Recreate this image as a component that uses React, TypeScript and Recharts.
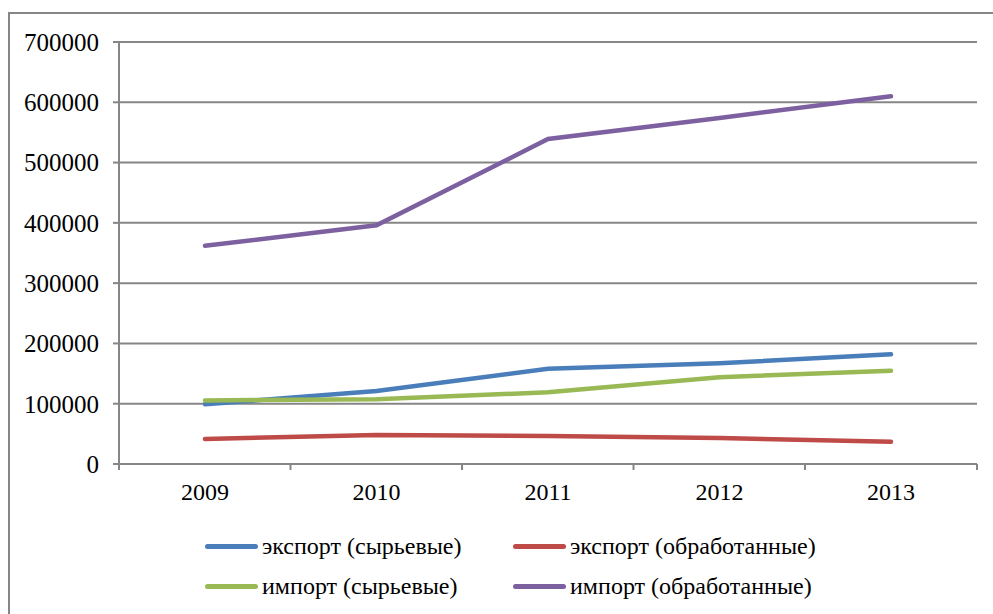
import { LineChart, Line, XAxis, YAxis, CartesianGrid } from 'recharts';

const years = ['2009', '2010', '2011', '2012', '2013'];
const exportRaw = [99000, 121000, 158000, 167000, 182000];
const exportProcessed = [41500, 48000, 46500, 43000, 37000];
const importRaw = [105500, 107500, 119000, 144000, 154500];
const importProcessed = [362000, 396000, 539000, 574000, 610000];
const yTicks = [0, 100000, 200000, 300000, 400000, 500000, 600000, 700000];

const series = [
  { key: 'exportRaw', name: 'экспорт (сырьевые)', color: '#4A7EBB' },
  { key: 'exportProcessed', name: 'экспорт (обработанные)', color: '#BE4B48' },
  { key: 'importRaw', name: 'импорт (сырьевые)', color: '#98B954' },
  { key: 'importProcessed', name: 'импорт (обработанные)', color: '#7D60A0' },
];

const data = years.map((year, i) => ({
  year,
  exportRaw: exportRaw[i],
  exportProcessed: exportProcessed[i],
  importRaw: importRaw[i],
  importProcessed: importProcessed[i],
}));

const FONT = 'Liberation Serif, DejaVu Serif, serif';
const GRAY = '#868686';
const HALF_BAND = 86;

// category label in the middle, tick marks on the category boundaries (like Excel)
function YearTick(props: any) {
  const { x, y, payload, index } = props;
  const top = y - 13;
  return (
    <g>
      <line x1={x - HALF_BAND} y1={top - 6} x2={x - HALF_BAND} y2={top} stroke={GRAY} strokeWidth={2} />
      {index === years.length - 1 && (
        <line x1={x + HALF_BAND} y1={top - 6} x2={x + HALF_BAND} y2={top} stroke={GRAY} strokeWidth={2} />
      )}
      <text x={x} y={y} dy="0.71em" textAnchor="middle" fill="#000" style={{ fontSize: 24, fontFamily: FONT }}>
        {payload.value}
      </text>
    </g>
  );
}

export default function App() {
  return (
    <div style={{ position: 'absolute', left: 0, top: 0, width: 993, height: 614, overflow: 'hidden', background: '#fff', fontFamily: FONT }}>
      <div style={{ position: 'absolute', left: 8, top: 12, width: 1100, height: 800, borderTop: `2px solid ${GRAY}`, borderLeft: `2px solid ${GRAY}` }} />
      <div style={{ position: 'absolute', left: 0, top: 0 }}>
        <LineChart width={993} height={614} data={data} margin={{ top: 42, right: 16, left: 0, bottom: 120 }} style={{ fontFamily: FONT }}>
          <CartesianGrid vertical={false} stroke={GRAY} strokeWidth={2} />
          <XAxis
            dataKey="year"
            padding={{ left: HALF_BAND, right: HALF_BAND }}
            axisLine={{ stroke: GRAY, strokeWidth: 2 }}
            tickLine={false}
            tickSize={6}
            tickMargin={13}
            height={30}
            tick={<YearTick />}
          />
          <YAxis
            domain={[0, 700000]}
            ticks={yTicks}
            width={119}
            axisLine={{ stroke: GRAY, strokeWidth: 2 }}
            tickLine={{ stroke: GRAY, strokeWidth: 2 }}
            tickSize={6}
            tickMargin={14}
            tick={{ fill: '#000', fontSize: 25, fontFamily: FONT, style: { fontFamily: FONT } }}
          />
          {series.map((s) => (
            <Line
              key={s.key}
              type="linear"
              dataKey={s.key}
              name={s.name}
              stroke={s.color}
              strokeWidth={4.5}
              strokeLinecap="round"
              dot={false}
              activeDot={false}
              isAnimationActive={false}
            />
          ))}
        </LineChart>
      </div>
      <div
        style={{
          position: 'absolute',
          left: 205,
          top: 528,
          display: 'grid',
          gridTemplateColumns: '308px 320px',
          rowGap: 4,
          fontFamily: FONT,
          fontSize: 24,
          color: '#000',
        }}
      >
        {series.map((s) => (
          <div key={s.key} style={{ display: 'flex', alignItems: 'center', height: 36 }}>
            <span style={{ display: 'inline-block', width: 53, height: 5, borderRadius: 3, background: s.color, marginRight: 4 }} />
            <span>{s.name}</span>
          </div>
        ))}
      </div>
    </div>
  );
}
